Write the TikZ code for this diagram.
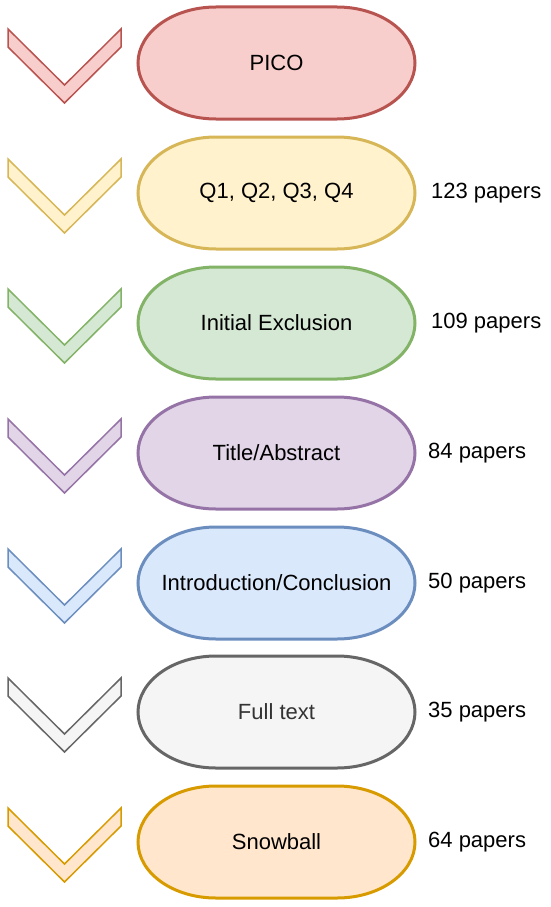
\documentclass[tikz,border=0pt]{standalone}
\usepackage{fontspec}
\setmainfont{Liberation Sans}
\usepackage{tikz}
\usepackage{xcolor}
\usetikzlibrary{positioning}
\definecolor{picofill}{HTML}{F8CECC}\definecolor{picoline}{HTML}{B85450}
\definecolor{qfill}{HTML}{FFF2CC}\definecolor{qline}{HTML}{D6B656}
\definecolor{exfill}{HTML}{D5E8D4}\definecolor{exline}{HTML}{82B366}
\definecolor{tafill}{HTML}{E1D5E7}\definecolor{taline}{HTML}{9673A6}
\definecolor{icfill}{HTML}{DAE8FC}\definecolor{icline}{HTML}{6C8EBF}
\definecolor{ftfill}{HTML}{F5F5F5}\definecolor{ftline}{HTML}{666666}
\definecolor{ftext}{HTML}{333333}
\definecolor{sbfill}{HTML}{FFE6CC}\definecolor{sbline}{HTML}{D79B00}
% stadium with elliptic ends: #1 centre y, #2 fill, #3 line
\newcommand{\stadiumat}[3]{%
  \draw[line width=3pt,draw=#3,fill=#2] (216,#1+56) -- (337,#1+56)
    arc[start angle=90,end angle=-90,x radius=78,y radius=56] -- (216,#1-56)
    arc[start angle=270,end angle=90,x radius=78,y radius=56] -- cycle;}
% chevron to the left of a stage: #1 centre y, #2 fill, #3 line
\newcommand{\chevronat}[3]{%
  \draw[line width=1.5pt,draw=#3,fill=#2,line join=miter] (8,#1+34) -- (64.5,#1-22) -- (121,#1+34)
    -- (121,#1+16) -- (64.5,#1-40) -- (8,#1+16) -- cycle;}
\begin{document}
\begin{tikzpicture}[x=1pt,y=1pt,font=\fontsize{22}{26}\selectfont,
  stagetext/.style={inner sep=0pt},
  counttext/.style={anchor=west,inner sep=0pt}]
  \useasboundingbox (0,0) rectangle (550,-907);
  \chevronat{-63}{picofill}{picoline}
  \stadiumat{-63}{picofill}{picoline}
  \node[stagetext] (pico) at (276.5,-63) {PICO};

  \chevronat{-193}{qfill}{qline}
  \stadiumat{-193}{qfill}{qline}
  \node[stagetext] (quest) at (276.5,-193) {Q1, Q2, Q3, Q4};
  \node[counttext] (nquest) at (431,-193) {123 papers};

  \chevronat{-323}{exfill}{exline}
  \stadiumat{-323}{exfill}{exline}
  \node[stagetext] (excl) at (276.5,-323) {Initial Exclusion};
  \node[counttext] (nexcl) at (431,-323) {109 papers};

  \chevronat{-453}{tafill}{taline}
  \stadiumat{-453}{tafill}{taline}
  \node[stagetext] (title) at (276.5,-453) {Title/Abstract};
  \node[counttext] (ntitle) at (428,-453) {84 papers};

  \chevronat{-583}{icfill}{icline}
  \stadiumat{-583}{icfill}{icline}
  \node[stagetext] (intro) at (276.5,-583) {Introduction/Conclusion};
  \node[counttext] (nintro) at (428,-583) {50 papers};

  \chevronat{-712}{ftfill}{ftline}
  \stadiumat{-712}{ftfill}{ftline}
  \node[stagetext,text=ftext] (full) at (276.5,-712) {Full text};
  \node[counttext] (nfull) at (428,-712) {35 papers};

  \chevronat{-842}{sbfill}{sbline}
  \stadiumat{-842}{sbfill}{sbline}
  \node[stagetext] (snow) at (276.5,-842) {Snowball};
  \node[counttext] (nsnow) at (428,-842) {64 papers};
\end{tikzpicture}
\end{document}
